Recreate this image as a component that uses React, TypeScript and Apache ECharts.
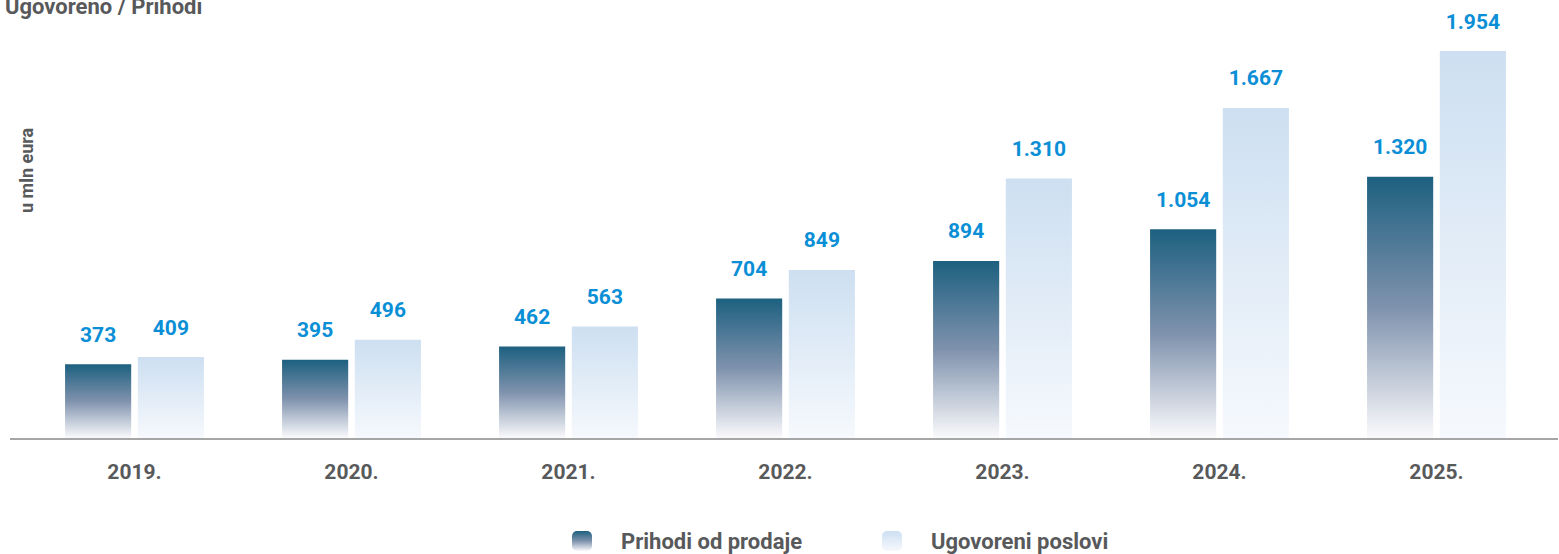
import React, { useEffect, useRef } from "react";
import * as echarts from "echarts";

const categories = ["2019.", "2020.", "2021.", "2022.", "2023.", "2024.", "2025."];
const prihodi = [373, 395, 462, 704, 894, 1054, 1320];
const ugovoreni = [409, 496, 563, 849, 1310, 1667, 1954];
const seriesNames = ["Prihodi od prodaje", "Ugovoreni poslovi"];
const titleText = "Ugovoreno / Prihodi";
const yAxisName = "u mln eura";

const FONT = "Roboto, 'Noto Sans', sans-serif";
const GRAY = "#58595b";
const BLUE = "#0a8fd6";

const fmt = (v: number) => {
  const s = String(Math.round(v));
  return s.replace(/\B(?=(\d{3})+(?!\d))/g, ".");
};

export default function App() {
  const ref = useRef<HTMLDivElement>(null);
  useEffect(() => {
    if (!ref.current) return;
    const chart = echarts.init(ref.current, null, { renderer: "svg" });
    const darkGrad = new echarts.graphic.LinearGradient(0, 0, 0, 1, [
      { offset: 0, color: "#1d6080" },
      { offset: 0.5, color: "#7f92ad" },
      { offset: 1, color: "#fafafc" },
    ]);
    const lightGrad = new echarts.graphic.LinearGradient(0, 0, 0, 1, [
      { offset: 0, color: "#cddff1" },
      { offset: 1, color: "#f6f9fd" },
    ]);
    const label = {
      show: true,
      position: "top",
      distance: 19,
      color: BLUE,
      fontSize: 21,
      fontWeight: "bold",
      fontFamily: FONT,
      formatter: (p: any) => fmt(p.value),
    };
    chart.setOption({
      animation: false,
      grid: { left: 26, right: 14, top: 42, bottom: 116, containLabel: false },
      xAxis: {
        type: "category",
        data: categories,
        axisLine: { show: false },
        axisTick: { show: false },
        axisLabel: {
          color: GRAY,
          fontSize: 21,
          fontWeight: "bold",
          fontFamily: FONT,
          margin: 23,
        },
      },
      yAxis: {
        type: "value",
        min: 0,
        max: 2000,
        show: false,
        splitLine: { show: false },
      },
      legend: {
        bottom: 2,
        left: 572,
        padding: 0,
        itemWidth: 20,
        itemHeight: 20,
        itemGap: 80,
        textStyle: {
          color: GRAY,
          fontSize: 22,
          fontWeight: "bold",
          fontFamily: FONT,
          padding: [0, 0, 0, 24],
        },
        data: seriesNames,
      },
      graphic: [
        {
          type: "text",
          x: 5,
          y: 6,
          style: {
            text: titleText,
            fill: GRAY,
            font: `bold 22px ${FONT}`,
            verticalAlign: "middle",
          },
        },
        {
          type: "text",
          x: 17,
          y: 213,
          rotation: Math.PI / 2,
          style: {
            text: yAxisName,
            fill: GRAY,
            font: `bold 18px ${FONT}`,
          },
        },
        {
          type: "line",
          shape: { x1: 10, y1: 439, x2: 1558, y2: 439 },
          style: { stroke: "#a6a6a6", lineWidth: 2 },
          z: 10,
        },
      ],
      series: [
        {
          name: seriesNames[0],
          type: "bar",
          data: prihodi,
          barCategoryGap: "36%",
          barGap: "10%",
          itemStyle: { color: darkGrad },
          label,
        },
        {
          name: seriesNames[1],
          type: "bar",
          data: ugovoreni,
          barCategoryGap: "36%",
          barGap: "10%",
          itemStyle: { color: lightGrad },
          label,
        },
      ],
    });
    return () => chart.dispose();
  }, []);
  return (
    <div
      ref={ref}
      style={{ position: "absolute", left: 0, top: 0, width: 1559, height: 554 }}
    />
  );
}
